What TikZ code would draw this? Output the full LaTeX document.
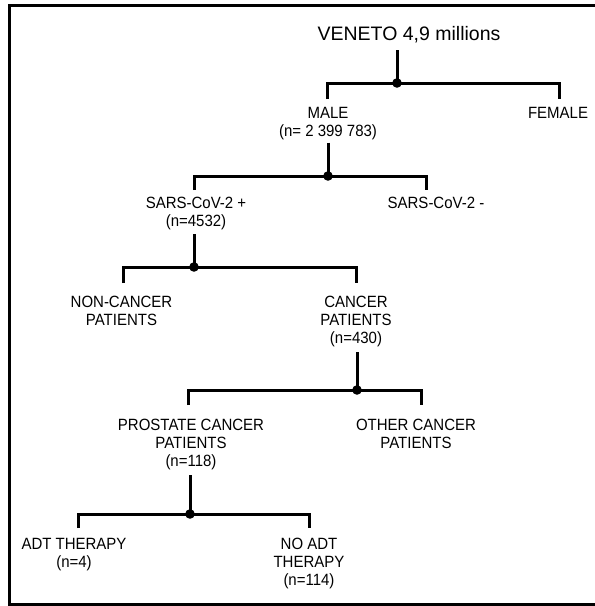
\documentclass[tikz,border=0pt]{standalone}
\usepackage{fontspec}
\setmainfont{Liberation Sans}
\newfontfamily\lblfont[FakeStretch=0.92]{Liberation Sans}
\usetikzlibrary{calc}
\begin{document}
\begin{tikzpicture}[x=1pt,y=-1pt,
  conn/.style={line width=3pt, line join=miter},
  jdot/.style={fill=black},
  frame/.style={line width=3pt, line join=miter},
  lbl/.style={font=\lblfont\fontsize{16.3}{18}\selectfont, align=center, inner sep=0pt, anchor=north},
  title/.style={font=\fontsize{19.5}{23}\selectfont, inner sep=0pt, anchor=base}]
\useasboundingbox (0,0) rectangle (595,606);
\draw[frame] (640,5.7) -- (9.7,5.7) -- (9.7,604.8) -- (640,604.8);

% labels
\node[title] (veneto) at (409,40.7) {VENETO 4,9 millions};
\node[lbl] (male) at (328,105.8) {\strut MALE\\\strut (n= 2 399 783)};
\node[lbl] (female) at (558,105.8) {\strut FEMALE};
\node[lbl] (sarspos) at (196,195.8) {\strut SARS-CoV-2 +\\\strut (n=4532)};
\node[lbl] (sarsneg) at (436,195.8) {\strut SARS-CoV-2 -};
\node[lbl] (noncancer) at (121.5,294.3) {\strut NON-CANCER\\\strut PATIENTS};
\node[lbl] (cancer) at (356,294.3) {\strut CANCER\\\strut PATIENTS\\\strut (n=430)};
\node[lbl] (prostate) at (191,417.3) {\strut PROSTATE CANCER\\\strut PATIENTS\\\strut (n=118)};
\node[lbl] (other) at (416,417.3) {\strut OTHER CANCER\\\strut PATIENTS};
\node[lbl] (adt) at (74,536.3) {\strut ADT THERAPY\\\strut (n=4)};
\node[lbl] (noadt) at (309,536.3) {\strut NO ADT\\\strut THERAPY\\\strut (n=114)};

% junctions and drop ends
\coordinate (j0) at (397,83);
\coordinate (d0a) at (327,99);  \coordinate (d0b) at (559,99);
\coordinate (j1) at (328,176);
\coordinate (d1a) at (194,190); \coordinate (d1b) at (426,190);
\coordinate (j2) at (194,267);
\coordinate (d2a) at (123,283); \coordinate (d2b) at (356,283);
\coordinate (j3) at (357,390);
\coordinate (d3a) at (188,405); \coordinate (d3b) at (421,405);
\coordinate (j4) at (190,514);
\coordinate (d4a) at (78,528);  \coordinate (d4b) at (309,528);

% connectors
\draw[conn] ($(veneto.base -| j0)+(0,9.3)$) -- (j0);
\draw[conn] (d0a) |- (j0) -| (d0b);
\draw[conn] ($(male.south -| j1)+(0,0.5)$) -- (j1);
\draw[conn] (d1a) |- (j1) -| (d1b);
\draw[conn] ($(sarspos.south -| j2)+(0,2.2)$) -- (j2);
\draw[conn] (d2a) |- (j2) -| (d2b);
\draw[conn] ($(cancer.south -| j3)+(0,3.5)$) -- (j3);
\draw[conn] (d3a) |- (j3) -| (d3b);
\draw[conn] ($(prostate.south -| j4)+(0,3.5)$) -- (j4);
\draw[conn] (d4a) |- (j4) -| (d4b);

\foreach \j in {j0,j1,j2,j3,j4} \fill[jdot] (\j) circle[radius=4.8pt];
\end{tikzpicture}
\end{document}
